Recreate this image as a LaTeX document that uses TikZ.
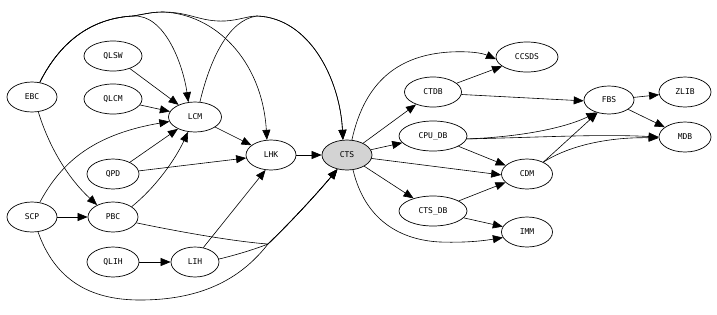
\documentclass[tikz,border=0pt]{standalone}
\usepackage{fontspec}
\setmonofont{DejaVu Sans Mono}
\usetikzlibrary{shapes.geometric,arrows.meta}
\begin{document}
\begin{tikzpicture}[x=1pt,y=-1pt,
  nd/.style={draw,ellipse,line width=0.7pt,inner sep=0pt,minimum height=30pt,minimum width=50pt,font=\ttfamily\fontsize{8}{9}\selectfont},
  ed/.style={line width=0.6pt,-{Triangle[length=10pt,width=8pt]}},
  ln/.style={line width=0.6pt}]
\useasboundingbox (0,0) rectangle (717,314);
% nodes
\node[nd] (EBC) at (32,97) {EBC};
\node[nd,minimum width=58pt] (QLSW) at (113,56) {QLSW};
\node[nd,minimum width=58pt] (QLCM) at (113,99) {QLCM};
\node[nd,minimum width=53pt] (LCM) at (195,117) {LCM};
\node[nd,minimum width=52pt] (QPD) at (113,174) {QPD};
\node[nd] (SCP) at (32,217) {SCP};
\node[nd] (PBC) at (113,217) {PBC};
\node[nd,minimum width=52pt] (QLIH) at (113,262) {QLIH};
\node[nd,minimum width=48pt] (LIH) at (195,262) {LIH};
\node[nd] (LHK) at (271,155) {LHK};
\node[nd,fill={rgb,255:red,211;green,211;blue,211}] (CTS) at (347,155) {CTS};
\node[nd,minimum width=57pt] (CTDB) at (433,92) {CTDB};
\node[nd,minimum width=68pt] (CPUDB) at (433,136) {CPU\_DB};
\node[nd,minimum width=68pt] (CTSDB) at (433,211) {CTS\_DB};
\node[nd,minimum width=62pt] (CCSDS) at (527,57) {CCSDS};
\node[nd,minimum height=28pt] (FBS) at (609,100) {FBS};
\node[nd,minimum width=52pt] (ZLIB) at (685,92) {ZLIB};
\node[nd,minimum width=52pt] (MDB) at (685,137) {MDB};
\node[nd,minimum width=51pt] (CDM) at (527,174) {CDM};
\node[nd,minimum width=51pt] (IMM) at (527,232) {IMM};
% merge points
\coordinate (sh) at (133,16);
\coordinate (peakE) at (163,12);
\coordinate (mergeT) at (257,16);
\coordinate (mergeB) at (268,244);
% left part
\draw[ed] (EBC.62) .. controls (62,38) and (95,18) .. (sh) .. controls (165,14) and (183,65) .. (LCM.114);
\draw[ed] (EBC.62) .. controls (62,38) and (95,18) .. (sh) .. controls (145,14) and (152,12) .. (peakE) .. controls (215,14) and (262,60) .. (LHK.105);
\draw[ed] (EBC.62) .. controls (62,38) and (95,18) .. (sh) .. controls (145,14) and (152,12) .. (peakE) .. controls (190,12) and (200,22) .. (225,21) .. controls (240,20) and (248,16) .. (mergeT) .. controls (310,18) and (340,80) .. (CTS.105);
\draw[ed] (LCM.72) .. controls (210,60) and (228,20) .. (mergeT) .. controls (310,18) and (340,80) .. (CTS.105);
\draw[ed] (EBC.-67) .. controls (50,150) and (70,180) .. (PBC.143);
\draw[ed] (QLSW) -- (LCM);
\draw[ed] (QLCM) -- (LCM);
\draw[ed] (QPD) -- (LCM);
\draw[ed] (QPD) -- (LHK);
\draw[ed] (SCP.62) .. controls (60,165) and (90,135) .. (LCM.190);
\draw[ed] (SCP) -- (PBC);
\draw[ed] (PBC.29) .. controls (155,188) and (175,160) .. (LCM.245);
\draw[ed] (QLIH) -- (LIH);
\draw[ed] (LIH.60) -- (LHK.250);
\draw[ed] (LCM) -- (LHK);
\draw[ed] (LHK) -- (CTS);
\draw[ed] (SCP.-68) .. controls (55,280) and (90,300) .. (140,300) .. controls (200,300) and (240,280) .. (mergeB) .. controls (295,218) and (320,190) .. (CTS.236);
\draw[ed] (PBC.-14) .. controls (190,234) and (240,242) .. (mergeB) .. controls (295,218) and (320,190) .. (CTS.236);
\draw[ed] (LIH.7) .. controls (240,254) and (258,248) .. (mergeB) .. controls (295,218) and (320,190) .. (CTS.236);
% right part
\draw[ed] (CTS) -- (CTDB);
\draw[ed] (CTS) -- (CPUDB);
\draw[ed] (CTS) -- (CTSDB);
\draw[ed] (CTS.-8) -- (CDM.182);
\draw[ed] (CTS.72) .. controls (365,80) and (400,55) .. (450,52) .. controls (470,51) and (482,53) .. (CCSDS.184);
\draw[ed] (CTS.-68) .. controls (365,220) and (400,240) .. (440,242) .. controls (470,243) and (488,240) .. (IMM.193);
\draw[ed] (CTDB) -- (CCSDS);
\draw[ed] (CTDB.-5) -- (FBS.182);
\draw[ed] (CPUDB) -- (CDM);
\draw[ed] (CPUDB.-5) .. controls (550,137) and (600,134) .. (MDB.180);
\draw[ed] (CPUDB.-5) .. controls (520,137) and (565,128) .. (FBS.225);
\draw[ed] (CTSDB) -- (CDM);
\draw[ed] (CTSDB) -- (IMM);
\draw[ed] (CDM.36) -- (FBS.228);
\draw[ed] (CDM.36) .. controls (570,145) and (610,137) .. (MDB.182);
\draw[ed] (FBS) -- (ZLIB);
\draw[ed] (FBS) -- (MDB);
\end{tikzpicture}
\end{document}
